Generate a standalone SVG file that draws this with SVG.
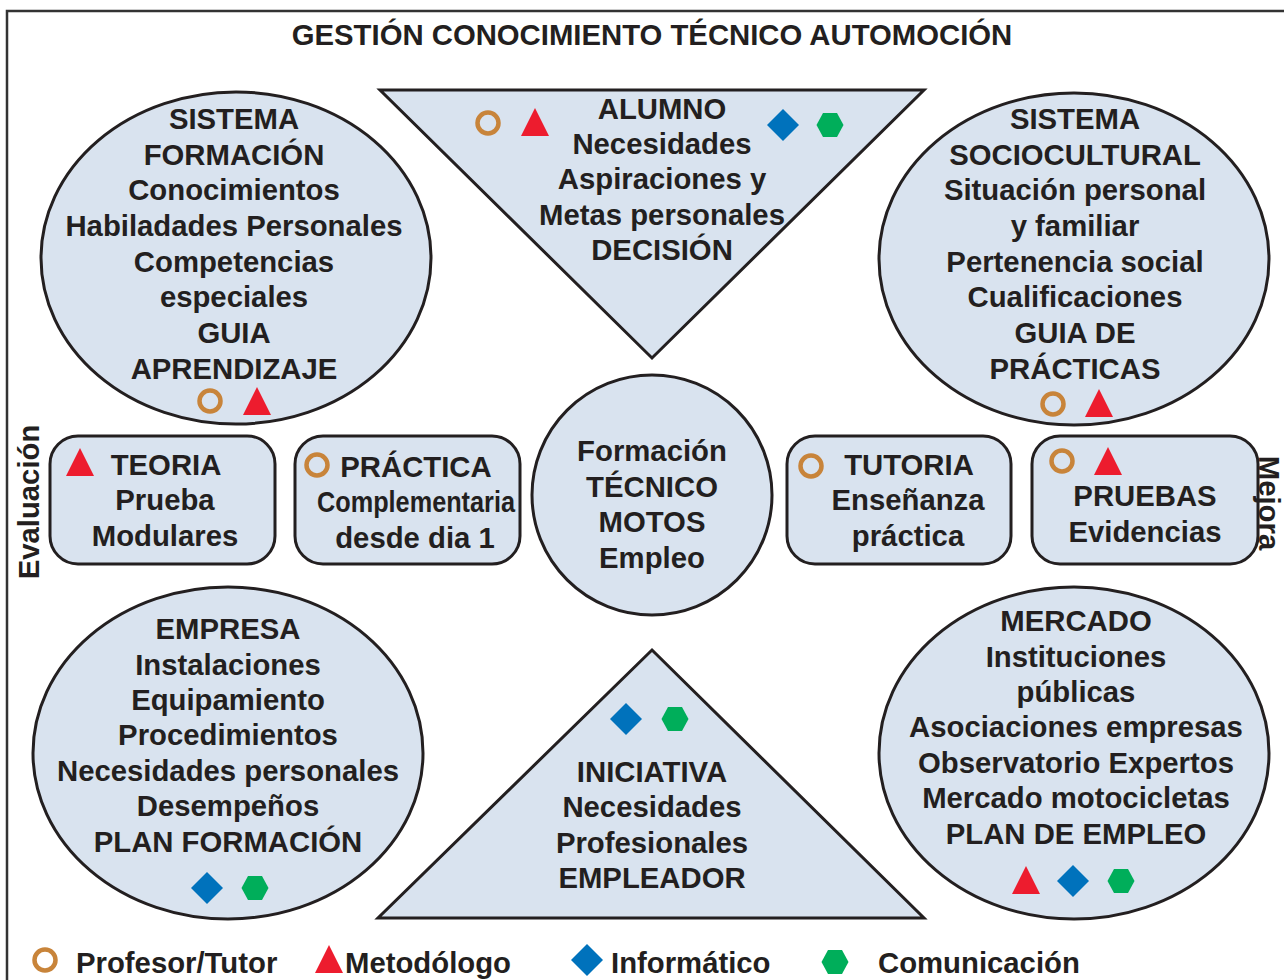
<svg xmlns="http://www.w3.org/2000/svg" xmlns:xlink="http://www.w3.org/1999/xlink" width="1284" height="980" viewBox="0 0 1284 980">
<style>
  .shape { fill: #d9e3ef; stroke: #231f20; stroke-width: 3; }
  .t { font-family: "Liberation Sans", Arial, sans-serif; font-weight: bold; font-size: 29.3px; fill: #231f20; text-anchor: middle; }
  .l { font-family: "Liberation Sans", Arial, sans-serif; font-weight: bold; font-size: 29.3px; fill: #231f20; }
</style>
<defs>
  <circle id="ring" r="10.5" fill="none" stroke="#c8843a" stroke-width="4.5"/>
  <polygon id="tri" points="0,-15 14,13 -14,13" fill="#ed1c2e"/>
  <polygon id="dia" points="0,-16 16,0 0,16 -16,0" fill="#0072bc"/>
  <polygon id="hex" points="-13.5,0 -7,-12 7,-12 13.5,0 7,12 -7,12" fill="#00ae5a"/>
</defs>
<rect x="0" y="0" width="1284" height="980" fill="#ffffff"/>
<rect x="7" y="11" width="1300" height="1000" fill="none" stroke="#333333" stroke-width="2.5"/>
<text class="t" x="652" y="45">GESTIÓN CONOCIMIENTO TÉCNICO AUTOMOCIÓN</text>

<g id="connectors"></g>

<g id="sistema-formacion">
  <ellipse class="shape" cx="236" cy="258" rx="195" ry="166"/>
  <text class="t" x="234" y="129">SISTEMA</text>
  <text class="t" x="234" y="165">FORMACIÓN</text>
  <text class="t" x="234" y="200">Conocimientos</text>
  <text class="t" x="234" y="236">Habiladades Personales</text>
  <text class="t" x="234" y="272">Competencias</text>
  <text class="t" x="234" y="307">especiales</text>
  <text class="t" x="234" y="343">GUIA</text>
  <text class="t" x="234" y="379">APRENDIZAJE</text>
  <use href="#ring" x="210" y="401"/>
  <use href="#tri" x="257" y="402"/>
</g>

<g id="sistema-sociocultural">
  <ellipse class="shape" cx="1074" cy="259" rx="195" ry="166"/>
  <text class="t" x="1075" y="129">SISTEMA</text>
  <text class="t" x="1075" y="165">SOCIOCULTURAL</text>
  <text class="t" x="1075" y="200">Situación personal</text>
  <text class="t" x="1075" y="236">y familiar</text>
  <text class="t" x="1075" y="272">Pertenencia social</text>
  <text class="t" x="1075" y="307">Cualificaciones</text>
  <text class="t" x="1075" y="343">GUIA DE</text>
  <text class="t" x="1075" y="379">PRÁCTICAS</text>
  <use href="#ring" x="1053" y="404"/>
  <use href="#tri" x="1099" y="404"/>
</g>

<g id="alumno">
  <polygon class="shape" points="380,90 924,90 652,358"/>
  <text class="t" x="662" y="119">ALUMNO</text>
  <text class="t" x="662" y="154">Necesidades</text>
  <text class="t" x="662" y="189">Aspiraciones y</text>
  <text class="t" x="662" y="225">Metas personales</text>
  <text class="t" x="662" y="260">DECISIÓN</text>
  <use href="#ring" x="488" y="123"/>
  <use href="#tri" x="535" y="123"/>
  <use href="#dia" x="783" y="125"/>
  <use href="#hex" x="830" y="125"/>
</g>

<g id="formacion-central">
  <circle class="shape" cx="652" cy="495" r="120"/>
  <text class="t" x="652" y="461">Formación</text>
  <text class="t" x="652" y="497">TÉCNICO</text>
  <text class="t" x="652" y="532">MOTOS</text>
  <text class="t" x="652" y="568">Empleo</text>
</g>

<g id="teoria">
  <rect class="shape" x="50" y="436" width="225" height="128" rx="28"/>
  <use href="#tri" x="80" y="463"/>
  <text class="t" x="166" y="475">TEORIA</text>
  <text class="t" x="165" y="510">Prueba</text>
  <text class="t" x="165" y="546">Modulares</text>
</g>

<g id="practica">
  <rect class="shape" x="295" y="436" width="225" height="128" rx="28"/>
  <use href="#ring" x="317" y="465"/>
  <text class="t" x="416" y="477">PRÁCTICA</text>
  <text class="t" x="416" y="512" textLength="198" lengthAdjust="spacingAndGlyphs" font-size="27">Complementaria</text>
  <text class="t" x="415" y="548">desde dia 1</text>
</g>

<g id="tutoria">
  <rect class="shape" x="787" y="436" width="224" height="128" rx="28"/>
  <use href="#ring" x="811" y="466"/>
  <text class="t" x="909" y="475">TUTORIA</text>
  <text class="t" x="908" y="510">Enseñanza</text>
  <text class="t" x="908" y="546">práctica</text>
</g>

<g id="pruebas">
  <rect class="shape" x="1032" y="436" width="226" height="128" rx="28"/>
  <use href="#ring" x="1062" y="461"/>
  <use href="#tri" x="1108" y="462"/>
  <text class="t" x="1145" y="506">PRUEBAS</text>
  <text class="t" x="1145" y="542">Evidencias</text>
</g>

<g id="empresa">
  <ellipse class="shape" cx="228" cy="753" rx="195" ry="166"/>
  <text class="t" x="228" y="639">EMPRESA</text>
  <text class="t" x="228" y="675">Instalaciones</text>
  <text class="t" x="228" y="710">Equipamiento</text>
  <text class="t" x="228" y="745">Procedimientos</text>
  <text class="t" x="228" y="781">Necesidades personales</text>
  <text class="t" x="228" y="816">Desempeños</text>
  <text class="t" x="228" y="852">PLAN FORMACIÓN</text>
  <use href="#dia" x="207" y="888"/>
  <use href="#hex" x="255" y="888"/>
</g>

<g id="iniciativa">
  <polygon class="shape" points="652,650 924,918 378,918"/>
  <use href="#dia" x="626" y="719"/>
  <use href="#hex" x="675" y="719"/>
  <text class="t" x="652" y="782">INICIATIVA</text>
  <text class="t" x="652" y="817">Necesidades</text>
  <text class="t" x="652" y="853">Profesionales</text>
  <text class="t" x="652" y="888">EMPLEADOR</text>
</g>

<g id="mercado">
  <ellipse class="shape" cx="1074" cy="753" rx="195" ry="166"/>
  <text class="t" x="1076" y="631">MERCADO</text>
  <text class="t" x="1076" y="667">Instituciones</text>
  <text class="t" x="1076" y="702">públicas</text>
  <text class="t" x="1076" y="737">Asociaciones empresas</text>
  <text class="t" x="1076" y="773">Observatorio Expertos</text>
  <text class="t" x="1076" y="808">Mercado motocicletas</text>
  <text class="t" x="1076" y="844">PLAN DE EMPLEO</text>
  <use href="#tri" x="1026" y="881"/>
  <use href="#dia" x="1073" y="881"/>
  <use href="#hex" x="1121" y="881"/>
</g>

<text class="t" transform="translate(39,502) rotate(-90)">Evaluación</text>
<text class="t" font-size="25" transform="translate(1259,503) rotate(90)">Mejora</text>

<g id="legend">
  <use href="#ring" x="45" y="960"/>
  <text class="l" x="76" y="973">Profesor/Tutor</text>
  <use href="#tri" x="329" y="960"/>
  <text class="l" x="345" y="973">Metodólogo</text>
  <use href="#dia" x="587" y="960"/>
  <text class="l" x="611" y="973">Informático</text>
  <use href="#hex" x="835" y="962"/>
  <text class="l" x="878" y="973">Comunicación</text>
</g>
</svg>
